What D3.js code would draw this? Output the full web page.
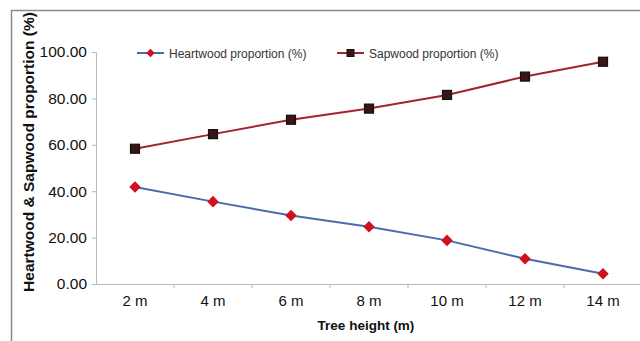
<!DOCTYPE html>
<html>
<head>
<meta charset="utf-8">
<script src="https://cdn.jsdelivr.net/npm/d3@7"></script>
<style>
  body { margin: 0; background: #fff; }
  svg { display: block; font-family: "Liberation Sans", Arial, sans-serif; }
</style>
</head>
<body>
<div id="chart"></div>
<script>
const heights = ["2 m", "4 m", "6 m", "8 m", "10 m", "12 m", "14 m"];
const heartwood = [41.8, 35.5, 29.5, 24.7, 18.8, 10.9, 4.4];
const sapwood = [58.3, 64.6, 70.8, 75.6, 81.5, 89.4, 95.8];
const yTicks = [0, 20, 40, 60, 80, 100];

const width = 640, height = 341;
const margin = { top: 52, right: -2, bottom: 57, left: 96 };

let svg = d3.select("#chart")
    .append("svg")
    .attr("width", width)
    .attr("height", height);

// outer frame (top and left edges visible)
svg.append("path")
    .attr("d", `M11.5,${height} L11.5,10.5 L${width},10.5`)
    .attr("fill", "none")
    .attr("stroke", "#8a8a8a")
    .attr("stroke-width", 1.5);

let x = d3.scaleBand()
    .domain(heights)
    .range([margin.left, width - margin.right]);

let y = d3.scaleLinear()
    .domain([0, 100])
    .range([height - margin.bottom, margin.top]);

// y axis
let yAxis = svg.append("g")
    .attr("transform", `translate(${margin.left}, 0)`)
    .call(d3.axisLeft(y).tickValues(yTicks).tickFormat(d3.format(".2f")).tickSize(4).tickPadding(5).tickSizeOuter(0));
yAxis.select(".domain").attr("stroke", "#b8b8b8");
yAxis.selectAll(".tick line").attr("stroke", "#b8b8b8");
yAxis.selectAll(".tick text")
    .attr("font-size", 15.5)
    .attr("fill", "#111")
    .attr("font-family", "Liberation Sans, Arial, sans-serif");

// x axis, ticks between categories
let xAxis = svg.append("g")
    .attr("transform", `translate(0, ${y(0)})`)
    .call(d3.axisBottom(x).tickSize(0).tickPadding(11).tickSizeOuter(0));
xAxis.select(".domain").attr("stroke", "#b8b8b8");
xAxis.selectAll(".tick text")
    .attr("font-size", 15)
    .attr("fill", "#111")
    .attr("font-family", "Liberation Sans, Arial, sans-serif");
svg.append("g")
    .selectAll("line")
    .data(heights.slice(1))
    .enter()
    .append("line")
    .attr("x1", d => x(d))
    .attr("x2", d => x(d))
    .attr("y1", y(0))
    .attr("y2", y(0) + 4)
    .attr("stroke", "#b8b8b8");

// axis titles
svg.append("text")
    .attr("x", 366)
    .attr("y", 330)
    .attr("text-anchor", "middle")
    .attr("font-size", 13.5)
    .attr("font-weight", "bold")
    .attr("fill", "#111")
    .text("Tree height (m)");

svg.append("text")
    .attr("transform", "translate(34, 152) rotate(-90)")
    .attr("text-anchor", "middle")
    .attr("font-size", 15.5)
    .attr("font-weight", "bold")
    .attr("fill", "#111")
    .text("Heartwood & Sapwood proportion (%)");

const cx = (d, i) => x(heights[i]) + x.bandwidth() / 2;
let line = d3.line()
    .x((d, i) => cx(d, i))
    .y(d => y(d));

// sapwood series
svg.append("path")
    .datum(sapwood)
    .attr("d", line)
    .attr("fill", "none")
    .attr("stroke", "#a3232e")
    .attr("stroke-width", 2);
svg.append("g")
    .selectAll("rect")
    .data(sapwood)
    .enter()
    .append("rect")
    .attr("x", (d, i) => cx(d, i) - 4.5)
    .attr("y", d => y(d) - 4.5)
    .attr("width", 9)
    .attr("height", 9)
    .attr("fill", "#3a1418")
    .attr("stroke", "#111")
    .attr("stroke-width", 1.2);

// heartwood series
svg.append("path")
    .datum(heartwood)
    .attr("d", line)
    .attr("fill", "none")
    .attr("stroke", "#4a6cae")
    .attr("stroke-width", 2);
svg.append("g")
    .selectAll("path")
    .data(heartwood)
    .enter()
    .append("path")
    .attr("d", d3.symbol().type(d3.symbolDiamond2).size(85))
    .attr("transform", (d, i) => `translate(${cx(d, i)}, ${y(d)})`)
    .attr("fill", "#d0101c");

// legend
const legend = [
    { name: "Heartwood proportion (%)", x: 137, color: "#4a6cae", marker: "diamond" },
    { name: "Sapwood proportion (%)", x: 337, color: "#a3232e", marker: "square" }
];
let lg = svg.append("g")
    .selectAll("g")
    .data(legend)
    .enter()
    .append("g")
    .attr("transform", d => `translate(${d.x}, 53)`);
lg.append("line")
    .attr("x1", 0).attr("x2", 27)
    .attr("stroke", d => d.color)
    .attr("stroke-width", 2);
lg.filter(d => d.marker == "diamond")
    .append("path")
    .attr("d", d3.symbol().type(d3.symbolDiamond2).size(45))
    .attr("transform", "translate(13.5, 0)")
    .attr("fill", "#d0101c");
lg.filter(d => d.marker == "square")
    .append("rect")
    .attr("x", 10).attr("y", -3.5)
    .attr("width", 7).attr("height", 7)
    .attr("fill", "#3a1418")
    .attr("stroke", "#111");
lg.append("text")
    .attr("x", 32)
    .attr("y", 4.5)
    .attr("font-size", 12)
    .attr("fill", "#333")
    .text(d => d.name);
</script>
</body>
</html>
